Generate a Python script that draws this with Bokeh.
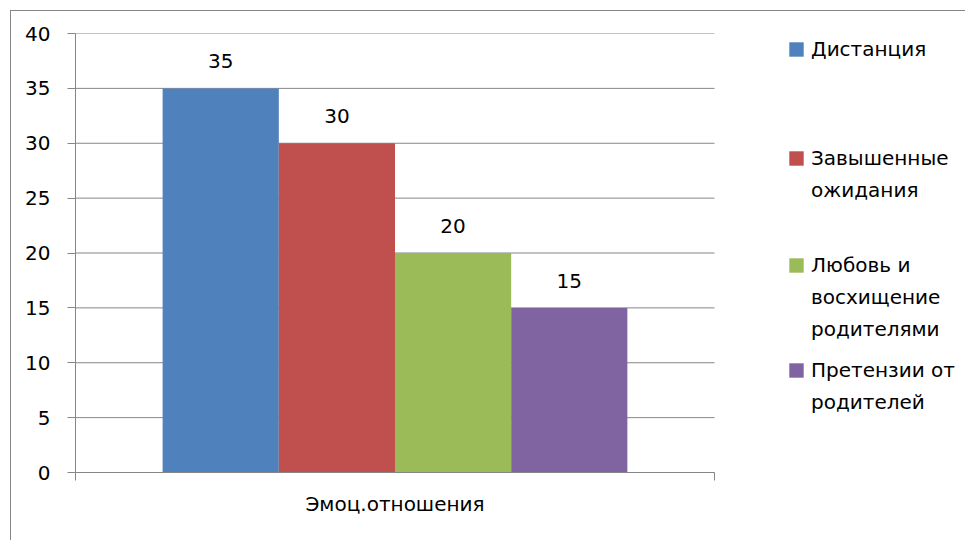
from bokeh.plotting import figure
from bokeh.models import FixedTicker, Range1d, Legend, LegendItem, ColumnDataSource
from bokeh.core.properties import value
from bokeh.embed import file_html
from bokeh.resources import INLINE

# ---- data ----
category = ["Эмоц.отношения"]
series_names = ["Дистанция", "Завышенные ожидания",
                "Любовь и восхищение родителями", "Претензии от родителей"]
legend_lines = [["Дистанция"], ["Завышенные", "ожидания"],
                ["Любовь и", "восхищение", "родителями"], ["Претензии от", "родителей"]]
values = [35, 30, 20, 15]
colors = ["#4F81BD", "#C0504D", "#9BBB59", "#8064A2"]
y_ticks = [0, 5, 10, 15, 20, 25, 30, 35, 40]

FONT = "DejaVu Sans"
FS = "20px"
GRID = "#868686"

# ---- layout ----
W, H = 955, 530
ORIGIN = 11                 # page px of canvas origin (10px margin + 1px border)
FRAME_L, FRAME_T, FRAME_B = 75, 33, 472   # page px
PLOT_R = 714                # right end of the category band (page px)
frame_right = ORIGIN + W
x_end = (frame_right - FRAME_L) / (PLOT_R - FRAME_L)

gap_width = 1.5             # Excel gap width 150%
n = len(values)
bar_w = 1.0 / (n + gap_width)
xs = [gap_width * bar_w / 2 + (i + 0.5) * bar_w for i in range(n)]

p = figure(width=W, height=H, output_backend="svg", toolbar_location=None,
           x_range=Range1d(0, x_end), y_range=Range1d(0, 40),
           min_border_left=FRAME_L - ORIGIN, min_border_top=FRAME_T - ORIGIN,
           min_border_right=0, min_border_bottom=ORIGIN + H - FRAME_B)
p.styles = {"margin-left": "10px", "margin-top": "10px",
            "border-left": "1px solid #868686", "border-top": "1px solid #868686"}
p.outline_line_color = None
p.background_fill_color = "white"
p.border_fill_color = "white"
p.xgrid.grid_line_color = None
p.ygrid.grid_line_color = None

# horizontal gridlines only across the category band
p.segment(x0=[0] * len(y_ticks), x1=[1] * len(y_ticks), y0=y_ticks, y1=y_ticks,
          line_color=GRID, line_width=1)

renderers = []
for i in range(n):
    src = ColumnDataSource(dict(x=[xs[i]], top=[values[i]], lab=[str(values[i])]))
    r = p.vbar(x="x", top="top", width=bar_w, bottom=0, source=src,
               fill_color=colors[i], line_color=None)
    renderers.append(r)
    p.text(x="x", y="top", text="lab", source=src, text_align="center",
           text_baseline="middle", y_offset=-27, text_font_size=value(FS),
           text_font=value(FONT), text_color="black")

# y axis
p.yaxis.ticker = FixedTicker(ticks=y_ticks)
p.yaxis.axis_line_color = GRID
p.yaxis.major_tick_line_color = GRID
p.yaxis.major_tick_out = 8
p.yaxis.major_tick_in = 0
p.yaxis.minor_tick_line_color = None
p.yaxis.major_label_text_font = FONT
p.yaxis.major_label_text_font_size = FS
p.yaxis.major_label_text_color = "black"
p.yaxis.major_label_standoff = 17

# x axis: category name in the middle, boundary ticks at the band edges
p.xaxis.bounds = (0, 1)
p.xaxis.ticker = FixedTicker(ticks=[0.5], minor_ticks=[0, 1])
p.xaxis.major_label_overrides = {0.5: category[0]}
p.xaxis.axis_line_color = GRID
p.xaxis.major_tick_line_color = None
p.xaxis.major_tick_out = 8
p.xaxis.major_tick_in = 0
p.xaxis.minor_tick_line_color = GRID
p.xaxis.minor_tick_out = 8
p.xaxis.minor_tick_in = 0
p.xaxis.major_label_text_font = FONT
p.xaxis.major_label_text_font_size = FS
p.xaxis.major_label_text_color = "black"
p.xaxis.major_label_standoff = 11

# legend: one box per series, glyph on the first line of its label
ROW = 32
first_line_centers = [49, 158, 265, 370]   # page px
LEG_X = 787                                  # page px of the swatch box
for i in range(n):
    lines = legend_lines[i]
    its = [LegendItem(label=lines[0], renderers=[renderers[i]])]
    its += [LegendItem(label=t, renderers=[]) for t in lines[1:]]
    bottom = first_line_centers[i] - ROW / 2 + len(lines) * ROW
    lg = Legend(items=its, location=(LEG_X - FRAME_L, FRAME_B - bottom),
                padding=0, margin=0, border_line_color=None,
                background_fill_alpha=0, glyph_width=18, glyph_height=18,
                label_standoff=6, label_text_font=FONT, label_text_font_size=FS,
                label_text_color="black", label_height=ROW, spacing=0)
    p.add_layout(lg, "center")

open("out.html", "w").write(file_html(p, INLINE))
